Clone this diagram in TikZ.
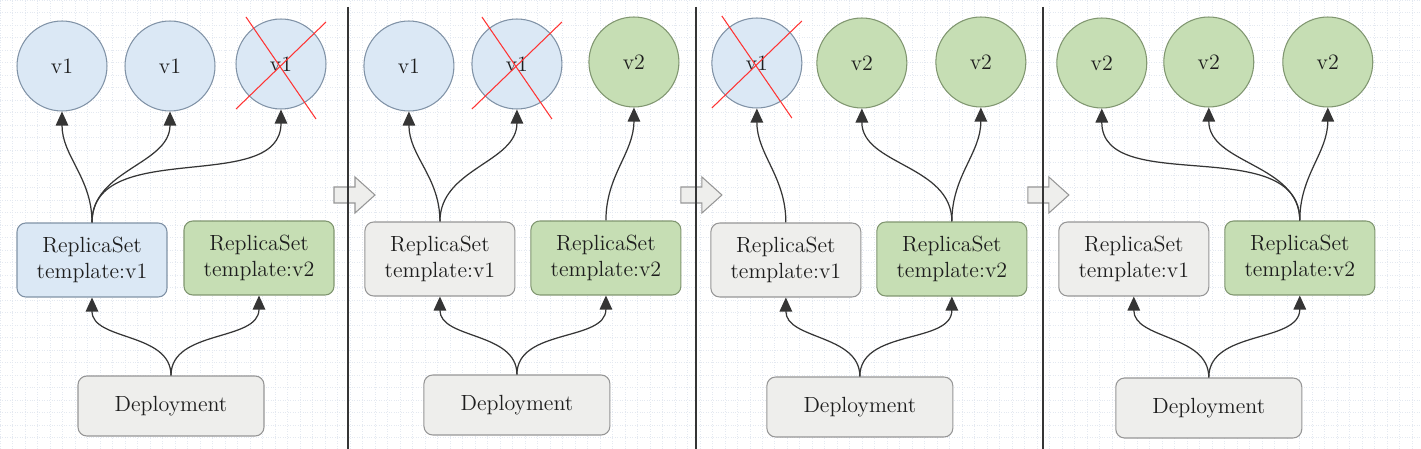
\documentclass[tikz,border=0pt]{standalone}
\usepackage{xcolor}
\usepackage{tikz}
\usetikzlibrary{shapes,arrows,positioning,calc,arrows.meta}

\definecolor{podblue}{RGB}{219,232,245}
\definecolor{podblueline}{RGB}{128,146,166}
\definecolor{podgreen}{RGB}{198,222,180}
\definecolor{podgreenline}{RGB}{128,150,112}
\definecolor{boxgray}{RGB}{238,238,236}
\definecolor{boxgrayline}{RGB}{150,150,150}
\definecolor{gridtone}{RGB}{228,233,241}
\definecolor{inktone}{RGB}{30,30,30}

\tikzset{
  pod/.style={circle, draw, line width=0.6pt, minimum size=1.8cm, inner sep=0pt, text=inktone, font=\fontsize{12.5}{15}\selectfont},
  podv1/.style={pod, fill=podblue, draw=podblueline},
  podv2/.style={pod, fill=podgreen, draw=podgreenline},
  rsbox/.style={rectangle, rounded corners=5pt, draw, line width=0.6pt, minimum width=3cm, minimum height=1.48cm, align=center, text=inktone, font=\fontsize{12.5}{15}\selectfont},
  rsv1/.style={rsbox, fill=podblue, draw=podblueline},
  rsv2/.style={rsbox, fill=podgreen, draw=podgreenline},
  rsold/.style={rsbox, fill=boxgray, draw=boxgrayline},
  deploybox/.style={rsbox, fill=boxgray, draw=boxgrayline, minimum width=3.72cm, minimum height=1.2cm},
  link/.style={-{Triangle[length=2.8mm,width=2.5mm]}, line width=0.7pt, draw=inktone!90},
  killed/.style={draw=red!80, line width=0.6pt},
  nextarrow/.style={fill=boxgray, draw=boxgrayline, line width=0.6pt},
  divider/.style={draw=inktone!90, line width=0.8pt},
  gridline/.style={draw=gridtone, densely dotted, line width=0.4pt}
}

\begin{document}
\begin{tikzpicture}[x=0.02cm,y=-0.02cm]
  \useasboundingbox (0,0) rectangle (1421,449);
  \fill[white] (0,0) rectangle (1421,449);
  \draw[gridline] (0,0) grid[step=0.25cm] (1421,449);

  % stage 1
  \begin{scope}
    \node[podv1] (p1c1) at (62,66) {v1};
    \node[podv1] (p1c2) at (170,66) {v1};
    \node[podv1] (p1c3) at (281,64) {v1};
    \node[rsv1] (p1rs1) at (92,260) {ReplicaSet\\template:v1};
    \node[rsv2] (p1rs2) at (259,258) {ReplicaSet\\template:v2};
    \node[deploybox] (p1dep) at (171,406) {Deployment};

    \draw[killed] ([shift={(-35,-47)}]p1c3.center) -- ([shift={(35,55)}]p1c3.center);
    \draw[killed] ([shift={(-45,45)}]p1c3.center) -- ([shift={(45,-42)}]p1c3.center);

    \draw[link] (p1rs1.north) to[out=90,in=-90] (p1c1.south);
    \draw[link] (p1rs1.north) to[out=90,in=-90] (p1c2.south);
    \draw[link] (p1rs1.north) to[out=90,in=-90] (p1c3.south);
    \draw[link] (p1dep.north) to[out=90,in=-90] (p1rs1.south);
    \draw[link] (p1dep.north) to[out=90,in=-90] (p1rs2.south);

    \draw[nextarrow] (334,187) -- (355,187) -- (355,177) -- (375,195) -- (355,213) -- (355,203) -- (334,203) -- cycle;
    \draw[divider] (348,7) -- (348,449);
  \end{scope}

  % stage 2
  \begin{scope}[xshift=6.94cm]
    \node[podv1] (p2c1) at (62,66) {v1};
    \node[podv1] (p2c2) at (170,64) {v1};
    \node[podv2] (p2c3) at (287,62) {v2};
    \node[rsold] (p2rs1) at (93,259) {ReplicaSet\\template:v1};
    \node[rsv2] (p2rs2) at (259,258) {ReplicaSet\\template:v2};
    \node[deploybox] (p2dep) at (170,405) {Deployment};

    \draw[killed] ([shift={(-35,-47)}]p2c2.center) -- ([shift={(35,55)}]p2c2.center);
    \draw[killed] ([shift={(-45,45)}]p2c2.center) -- ([shift={(45,-42)}]p2c2.center);

    \draw[link] (p2rs1.north) to[out=90,in=-90] (p2c1.south);
    \draw[link] (p2rs1.north) to[out=90,in=-90] (p2c2.south);
    \draw[link] (p2rs2.north) to[out=90,in=-90] (p2c3.south);
    \draw[link] (p2dep.north) to[out=90,in=-90] (p2rs1.south);
    \draw[link] (p2dep.north) to[out=90,in=-90] (p2rs2.south);

    \draw[nextarrow] (334,187) -- (355,187) -- (355,177) -- (375,195) -- (355,213) -- (355,203) -- (334,203) -- cycle;
    \draw[divider] (349,7) -- (349,449);
  \end{scope}

  % stage 3
  \begin{scope}[xshift=13.88cm]
    \node[podv1] (p3c1) at (63,63) {v1};
    \node[podv2] (p3c2) at (168,63) {v2};
    \node[podv2] (p3c3) at (287,62) {v2};
    \node[rsold] (p3rs1) at (92,260) {ReplicaSet\\template:v1};
    \node[rsv2] (p3rs2) at (258,259) {ReplicaSet\\template:v2};
    \node[deploybox] (p3dep) at (166,407) {Deployment};

    \draw[killed] ([shift={(-35,-47)}]p3c1.center) -- ([shift={(35,55)}]p3c1.center);
    \draw[killed] ([shift={(-45,45)}]p3c1.center) -- ([shift={(45,-42)}]p3c1.center);

    \draw[link] (p3rs1.north) to[out=90,in=-90] (p3c1.south);
    \draw[link] (p3rs2.north) to[out=90,in=-90] (p3c2.south);
    \draw[link] (p3rs2.north) to[out=90,in=-90] (p3c3.south);
    \draw[link] (p3dep.north) to[out=90,in=-90] (p3rs1.south);
    \draw[link] (p3dep.north) to[out=90,in=-90] (p3rs2.south);

    \draw[nextarrow] (334,187) -- (355,187) -- (355,177) -- (375,195) -- (355,213) -- (355,203) -- (334,203) -- cycle;
    \draw[divider] (349,7) -- (349,449);
  \end{scope}

  % stage 4
  \begin{scope}[xshift=20.82cm]
    \node[podv2] (p4c1) at (61,63) {v2};
    \node[podv2] (p4c2) at (168,62) {v2};
    \node[podv2] (p4c3) at (287,62) {v2};
    \node[rsold] (p4rs1) at (93,259) {ReplicaSet\\template:v1};
    \node[rsv2] (p4rs2) at (259,258) {ReplicaSet\\template:v2};
    \node[deploybox] (p4dep) at (168,408) {Deployment};

    \draw[link] (p4rs2.north) to[out=90,in=-90] (p4c1.south);
    \draw[link] (p4rs2.north) to[out=90,in=-90] (p4c2.south);
    \draw[link] (p4rs2.north) to[out=90,in=-90] (p4c3.south);
    \draw[link] (p4dep.north) to[out=90,in=-90] (p4rs1.south);
    \draw[link] (p4dep.north) to[out=90,in=-90] (p4rs2.south);
  \end{scope}
\end{tikzpicture}
\end{document}
